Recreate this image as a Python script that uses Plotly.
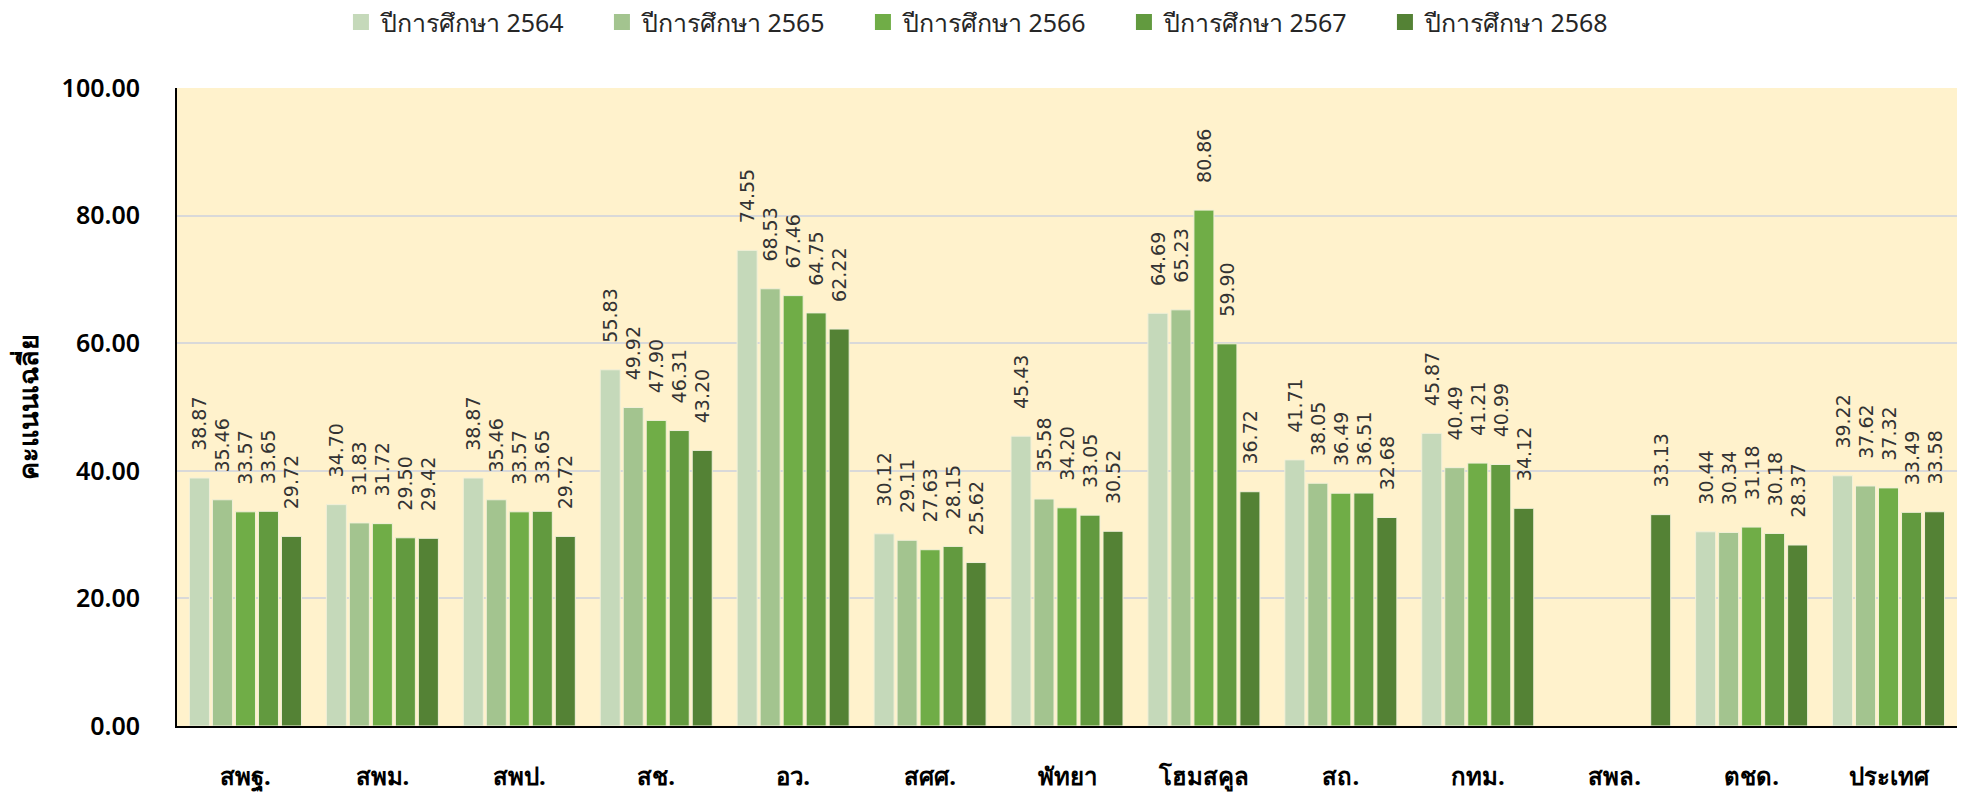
import plotly.graph_objects as go

categories = ["สพฐ.", "สพม.", "สพป.", "สช.", "อว.", "สศศ.", "พัทยา", "โฮมสคูล",
              "สถ.", "กทม.", "สพล.", "ตชด.", "ประเทศ"]
series_names = ["ปีการศึกษา 2564", "ปีการศึกษา 2565", "ปีการศึกษา 2566",
                "ปีการศึกษา 2567", "ปีการศึกษา 2568"]
y2564 = [38.87, 34.70, 38.87, 55.83, 74.55, 30.12, 45.43, 64.69, 41.71, 45.87, None, 30.44, 39.22]
y2565 = [35.46, 31.83, 35.46, 49.92, 68.53, 29.11, 35.58, 65.23, 38.05, 40.49, None, 30.34, 37.62]
y2566 = [33.57, 31.72, 33.57, 47.90, 67.46, 27.63, 34.20, 80.86, 36.49, 41.21, None, 31.18, 37.32]
y2567 = [33.65, 29.50, 33.65, 46.31, 64.75, 28.15, 33.05, 59.90, 36.51, 40.99, None, 30.18, 33.49]
y2568 = [29.72, 29.42, 29.72, 43.20, 62.22, 25.62, 30.52, 36.72, 32.68, 34.12, 33.13, 28.37, 33.58]
y_ticks = [0, 20, 40, 60, 80, 100]
y_tick_labels = ["0.00", "20.00", "40.00", "60.00", "80.00", "100.00"]

colors = ["#C5D9BA", "#A3C48F", "#70AD47", "#629A3F", "#548235"]
all_series = [y2564, y2565, y2566, y2567, y2568]

NB = "\u00A0"

fig = go.Figure()
for name, vals, col in zip(series_names, all_series, colors):
    fig.add_trace(go.Bar(
        x=categories, y=vals, name=name, showlegend=False,
        marker=dict(color=col, line=dict(color="#F2F0D8", width=1)),
        texttemplate=NB * 4 + "%{y:.2f}", textposition="outside", textangle=-90,
        constraintext="none", cliponaxis=False,
        textfont=dict(family="DejaVu Sans", size=19, color="#333333"),
    ))
# legend entries (square swatches)
for name, col in zip(series_names, colors):
    fig.add_trace(go.Scatter(
        x=[None], y=[None], mode="markers", name=name,
        marker=dict(symbol="square", size=16, color=col),
    ))

fig.update_layout(
    width=1961, height=795,
    barmode="group", bargap=0.16, bargroupgap=0.13,
    plot_bgcolor="#FFF2CC", paper_bgcolor="white",
    margin=dict(l=177, r=4, t=88, b=69, autoexpand=False),
    legend=dict(orientation="h", x=0.0921, xanchor="left",
                y=1.103, yanchor="middle", itemsizing="trace",
                entrywidth=216, entrywidthmode="pixels",
                font=dict(family="Noto Sans", size=25, color="#262626")),
    yaxis=dict(range=[0, 100], tickvals=y_ticks, ticktext=y_tick_labels,
               showgrid=True, gridcolor="#D9D9D9", gridwidth=2,
               showline=True, linecolor="black", linewidth=2,
               ticks="", ticklabelstandoff=30,
               tickfont=dict(family="Noto Sans", size=25, color="black", weight=600),
               title=dict(text="คะแนนเฉลี่ย", standoff=15,
                          font=dict(family="Noto Sans", size=27, color="black", weight="bold")),
               zeroline=False),
    xaxis=dict(showline=True, linecolor="black", linewidth=2,
               tickfont=dict(family="Noto Sans", size=24, color="black", weight="bold"),
               ticklabelstandoff=28),
)

fig.write_html("out.html", config={"displayModeBar": False},
               post_script="document.body.style.margin='0';")
